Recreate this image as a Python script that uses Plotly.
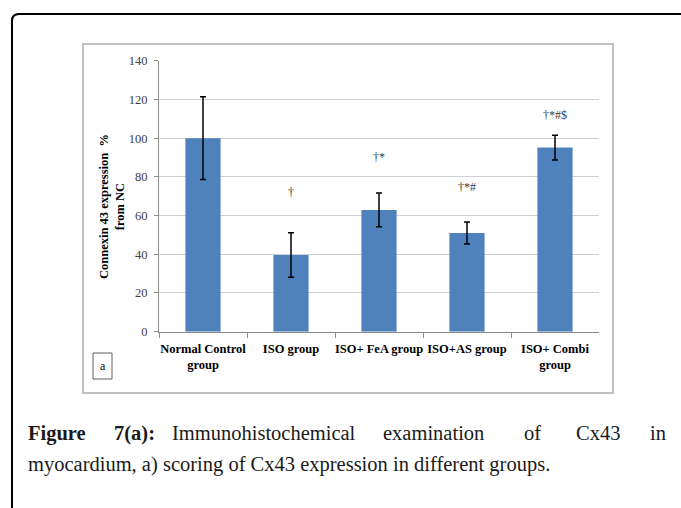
import plotly.graph_objects as go

W, H = 681, 508

categories = ["Normal Control group", "ISO group", "ISO+ FeA group", "ISO+AS group", "ISO+ Combi group"]
tick_labels = ["Normal Control<br>group", "ISO group", "ISO+ FeA group", "ISO+AS group", "ISO+ Combi<br>group"]
values = [100, 39.6, 62.9, 51.0, 95.1]
errors = [21.4, 11.5, 8.7, 5.7, 6.4]
sig_marks = ["", "†", "†*", "†*#", "†*#$"]
sig_y = [None, 72.3, 90.4, 74.9, 111.8]
y_ticks = [0, 20, 40, 60, 80, 100, 120, 140]


def px(x):
    return x / W


def py(y):
    return 1 - y / H


SERIF = "Liberation Serif"

fig = go.Figure()
fig.add_trace(go.Bar(
    x=categories, y=values,
    marker=dict(color="#4f81bd", line=dict(width=0)),
    width=0.4,
    error_y=dict(type="data", array=errors, visible=True, color="#000000", thickness=1.5, width=3),
    showlegend=False,
))

annotations = []
for c, m, yv in zip(categories, sig_marks, sig_y):
    if m:
        annotations.append(dict(x=c, y=yv, xref="x", yref="y", text=m, showarrow=False,
                                xanchor="center", yanchor="middle",
                                font=dict(family=SERIF, size=12, color="#3a3a3a")))

# y-axis title
annotations.append(dict(x=px(112), y=py(207), xref="paper", yref="paper",
                        xanchor="center", yanchor="middle",
                        text="<b>Connexin 43 expression  %<br>from NC</b>", textangle=-90,
                        showarrow=False, font=dict(family=SERIF, size=12.5, color="#000000")))
# "a" label
annotations.append(dict(x=px(102.5), y=py(366), xref="paper", yref="paper", text="a",
                        xanchor="center", yanchor="middle",
                        showarrow=False, font=dict(family=SERIF, size=12, color="#000000")))

# caption
cap_font = dict(family=SERIF, size=20.5, color="#1a1a1a")
line1 = [("<b>Figure</b>", 26), ("<b>7(a):</b>", 112), ("Immunohistochemical", 170),
         ("examination", 381), ("of", 522), ("Cx43", 574)]
for t, x in line1:
    annotations.append(dict(x=px(x), y=py(433), xref="paper", yref="paper", text=t,
                            xanchor="left", yanchor="middle", showarrow=False, font=cap_font))
annotations.append(dict(x=px(668), y=py(433), xref="paper", yref="paper", text="in",
                        xanchor="right", yanchor="middle", showarrow=False, font=cap_font))
annotations.append(dict(x=px(26), y=py(464), xref="paper", yref="paper",
                        text="myocardium, a) scoring of Cx43 expression in different groups.",
                        xanchor="left", yanchor="middle", showarrow=False, font=cap_font))

shapes = [
    # outer frame with rounded corner
    dict(type="path", xref="paper", yref="paper",
         path=f"M {px(12)},{py(510)} L {px(12)},{py(21)} Q {px(12)},{py(14)} {px(19)},{py(14)} L {px(683)},{py(14)}",
         line=dict(color="#000000", width=2)),
    # chart box
    dict(type="rect", xref="paper", yref="paper", x0=px(83), x1=px(613), y0=py(393), y1=py(44),
         line=dict(color="#c0c0c0", width=2)),
    # "a" box
    dict(type="rect", xref="paper", yref="paper", x0=px(93), x1=px(112), y0=py(379), y1=py(353),
         line=dict(color="#606060", width=1)),
]

fig.update_layout(
    width=W, height=H,
    margin=dict(l=0, r=0, t=0, b=0, autoexpand=False),
    paper_bgcolor="white", plot_bgcolor="white",
    bargap=0.6,
    annotations=annotations,
    shapes=shapes,
    xaxis=dict(domain=[px(159), px(599)], type="category", automargin=False,
               tickvals=categories, ticktext=[f"<b>{t}</b>" for t in tick_labels],
               tickangle=0,
               tickfont=dict(family=SERIF, size=12.5, color="#000000"),
               showline=True, linecolor="#8c8c8c", linewidth=1,
               ticks="outside", ticklen=5, tickcolor="#8c8c8c", tickson="boundaries",
               ticklabelstandoff=5,
               showgrid=False, fixedrange=True),
    yaxis=dict(domain=[py(331.7), py(60.7)], range=[0, 140], tickvals=y_ticks, automargin=False,
               tickfont=dict(family=SERIF, size=12.5, color="#404040"),
               showline=True, linecolor="#8c8c8c", linewidth=1,
               ticks="outside", ticklen=4, tickcolor="#8c8c8c",
               ticklabelstandoff=4,
               showgrid=True, gridcolor="#d0d0d0", gridwidth=1, zeroline=False,
               fixedrange=True),
)

fig.write_html("out.html")
